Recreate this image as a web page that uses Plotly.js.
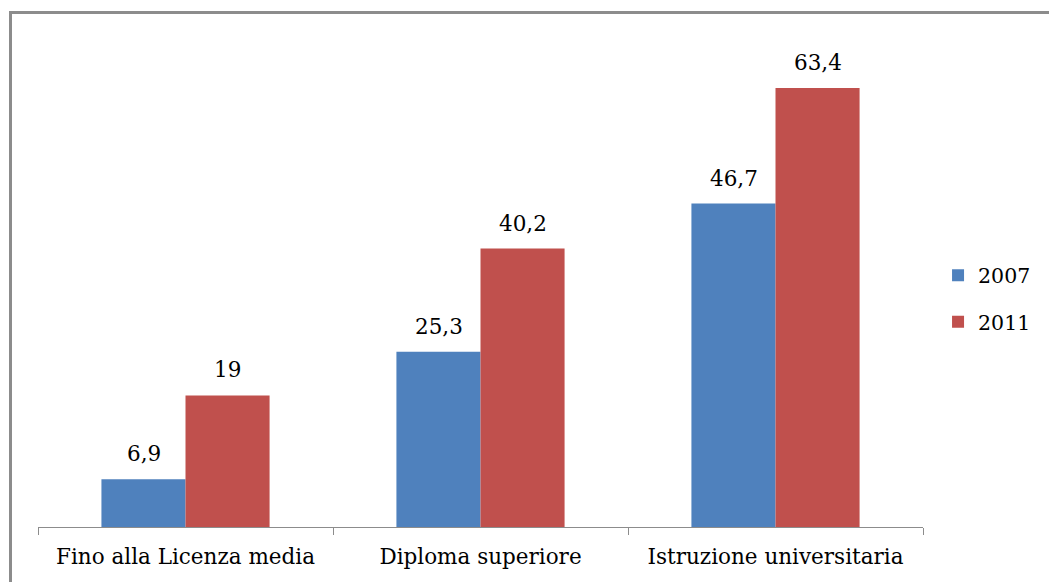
<!DOCTYPE html>
<html>
<head>
<meta charset="utf-8">
<script src="https://cdn.plot.ly/plotly-3.0.1.min.js"></script>
<style>
  html, body { margin: 0; padding: 0; background: #fff; }
  #wrap { position: relative; width: 1049px; height: 582px; overflow: hidden; }
  #chart { position: absolute; left: 0; top: 0; width: 1049px; height: 582px; }
  #frame { position: absolute; left: 9px; top: 11px; width: 1100px; height: 700px;
           border-top: 3px solid #8c8c8c; border-left: 3px solid #8c8c8c; pointer-events: none; }
</style>
</head>
<body>
<div id="wrap">
  <div id="chart"></div>
  <div id="frame"></div>
</div>
<script>
const categories = ["Fino alla Licenza media", "Diploma superiore", "Istruzione universitaria"];
const seriesNames = ["2007", "2011"];
const values2007 = [6.9, 25.3, 46.7];
const values2011 = [19, 40.2, 63.4];
const colors = ["#4F81BD", "#C0504D"];

function fmt(v) { return String(v).replace('.', ','); }

const font = { family: "DejaVu Serif", size: 21.5, color: "#000" };
const legendFont = { family: "DejaVu Serif", size: 20.5, color: "#000" };

const traces = [values2007, values2011].map((vals, i) => ({
  type: "bar",
  name: seriesNames[i],
  x: categories,
  y: vals,
  marker: { color: colors[i], line: { width: 0 } },
  legendgroup: "g" + i,
  hoverinfo: "skip"
}));

const annotations = [];
[values2007, values2011].forEach((vals, i) => {
  vals.forEach((v, j) => {
    annotations.push({
      x: categories[j], y: v, xref: "x", yref: "y",
      text: fmt(v), showarrow: false,
      xanchor: "center", yanchor: "bottom",
      xshift: (i === 0 ? -42 : 42), yshift: 11,
      font: font
    });
  });
});

const layout = {
  width: 1049,
  height: 582,
  margin: { l: 38, r: 126, t: 20, b: 55 },
  paper_bgcolor: "#fff",
  plot_bgcolor: "#fff",
  font: font,
  barmode: "group",
  bargap: 0.43,
  bargroupgap: 0,
  showlegend: true,
  annotations: annotations,
  legend: {
    x: 1.017, xanchor: "left", y: 0.45, yanchor: "middle",
    font: legendFont, traceorder: "grouped", tracegroupgap: 17,
    itemwidth: 30, bgcolor: "rgba(0,0,0,0)"
  },
  xaxis: {
    type: "category",
    showline: true, linecolor: "#8c8c8c", linewidth: 1,
    ticks: "outside", tickson: "boundaries", ticklen: 7, tickcolor: "#8c8c8c",
    ticklabelstandoff: 10,
    showgrid: false, zeroline: false,
    tickfont: font
  },
  yaxis: {
    range: [0, 73.2], visible: false, showgrid: false, zeroline: false, fixedrange: true
  }
};

Plotly.newPlot("chart", traces, layout, { displayModeBar: false, staticPlot: true });
</script>
</body>
</html>
